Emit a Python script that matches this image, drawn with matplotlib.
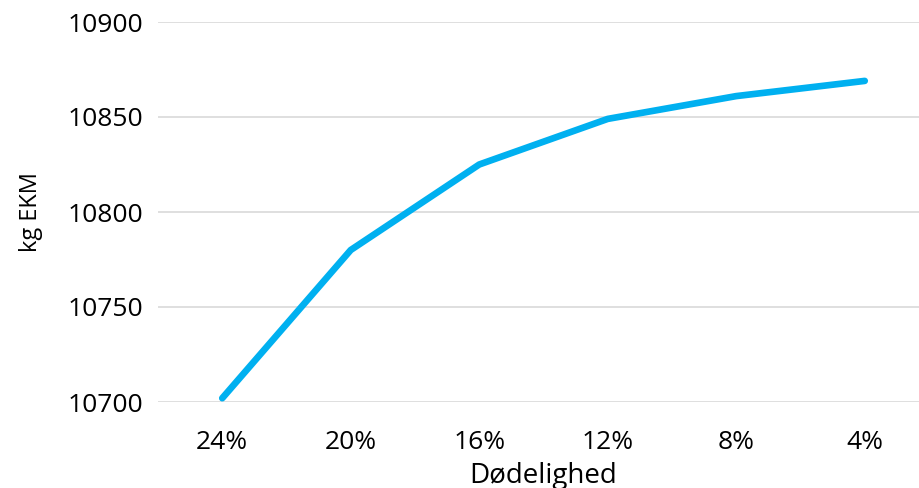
import matplotlib
matplotlib.use("Agg")
import matplotlib.pyplot as plt

# data
categories = ["24%", "20%", "16%", "12%", "8%", "4%"]
values = [10702, 10780, 10825, 10849, 10861, 10869]
y_ticks = [10700, 10750, 10800, 10850, 10900]

plt.rcParams['font.family'] = ['Open Sans', 'DejaVu Sans']

fig = plt.figure(figsize=(9.19, 4.88), dpi=100)
ax = fig.add_axes([158 / 919, 1 - 402 / 488, (929 - 158) / 919, 380 / 488])

x = list(range(len(categories)))
ax.plot(x, values, color="#00B0F0", linewidth=4.8, solid_capstyle="round",
        solid_joinstyle="round", zorder=3)

ax.set_xlim(-0.5, len(categories) - 0.5)
ax.set_ylim(10700, 10900)
ax.set_yticks(y_ticks)
ax.set_xticks(x)
ax.set_xticklabels(categories)

ax.grid(axis="y", color="#D9D9D9", linewidth=1.2)
ax.set_axisbelow(True)
for s in ax.spines.values():
    s.set_visible(False)
ax.tick_params(axis="both", length=0, labelsize=19, colors="#000000")
ax.tick_params(axis="y", pad=11)
ax.tick_params(axis="x", pad=20)

ax.set_xlabel("Dødelighed", fontsize=20, labelpad=5)
ax.set_ylabel("kg EKM", fontsize=17, labelpad=17)

fig.savefig("out.png", dpi=100)
